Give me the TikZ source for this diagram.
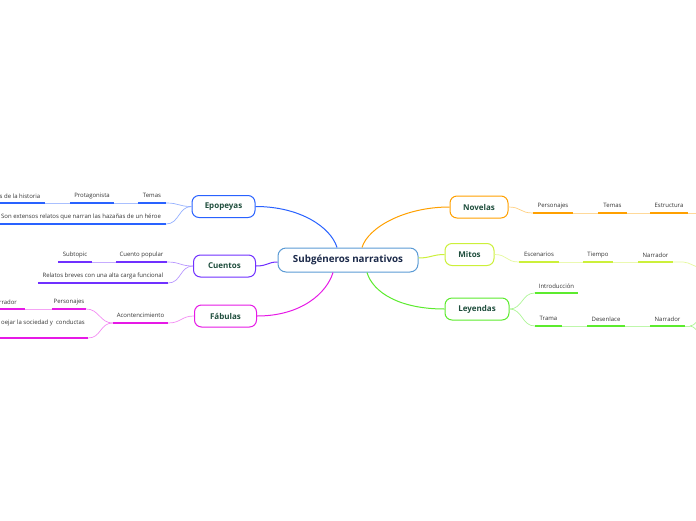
\documentclass[tikz,border=0pt]{standalone}
\usepackage{fontspec}
\setmainfont{Open Sans}
\usetikzlibrary{calc}
\definecolor{cCen}{HTML}{5B9BD5}
\definecolor{cCenT}{HTML}{1C2A4A}
\definecolor{cTxt}{HTML}{1F4E3D}
\definecolor{cGray}{HTML}{333333}
\definecolor{cEp}{HTML}{2962FF}
\definecolor{cCu}{HTML}{7030FF}
\definecolor{cFa}{HTML}{E619E6}
\definecolor{cNo}{HTML}{FFA000}
\definecolor{cMi}{HTML}{CCF03A}
\definecolor{cLe}{HTML}{5CEB2E}
\begin{document}
\begin{tikzpicture}[x=1pt,y=-1pt,
  topic/.style={draw, line width=1pt, rounded corners=7pt, fill=white, text=cTxt,
    font=\fontsize{8}{10}\selectfont\bfseries, minimum height=22pt, inner sep=0pt},
  sub/.style={inner sep=0pt, minimum height=14pt, anchor=south, text=cGray,
    font=\fontsize{6}{7}\selectfont},
  ul/.style={line width=1.7pt},
  thinl/.style={line width=0.7pt},
  main/.style={line width=1pt}]
\useasboundingbox (0,0) rectangle (696,520);
\clip (0,0) rectangle (696,520);

% central node
\node[draw=cCen, line width=1pt, rounded corners=8pt, fill=white, text=cCenT,
  font=\fontsize{9.8}{12}\selectfont\bfseries, minimum width=140pt, minimum height=24pt, inner sep=0pt]
  (c) at (348,260) {Subgéneros narrativos};

% main topics
\node[topic, draw=cEp, minimum width=63pt] (ep) at (223.5,206.5) {Epopeyas};
\node[topic, draw=cCu, minimum width=62pt] (cu) at (224.5,266) {Cuentos};
\node[topic, draw=cFa, minimum width=62pt] (fa) at (225.5,316) {Fábulas};
\node[topic, draw=cNo, minimum width=58pt] (no) at (479,207) {Novelas};
\node[topic, draw=cMi, minimum width=49pt] (mi) at (469.5,254.5) {Mitos};
\node[topic, draw=cLe, minimum width=64pt] (le) at (477,309) {Leyendas};

% connectors center -> topics
\draw[main, cEp] (ep.east) .. controls +(45,0) and +(-6,-20) .. ($(c.north)+(-11,0)$);
\draw[main, cCu] (cu.east) .. controls +(12,0) and +(-10,0) .. ($(c.west)+(0,2)$);
\draw[main, cFa] (fa.east) .. controls +(45,0) and +(-6,20) .. ($(c.south)+(-15,0)$);
\draw[main, cNo] (no.west) .. controls +(-45,0) and +(6,-20) .. ($(c.north)+(14,0)$);
\draw[main, cMi] (mi.west) .. controls +(-12,0) and +(12,0) .. ($(c.east)+(0,-2)$);
\draw[main, cLe] (le.west) .. controls +(-45,0) and +(6,20) .. ($(c.south)+(19,0)$);

% ---------- Epopeyas ----------
\node[sub, minimum width=28pt] (epT) at (152,203) {Temas};
\node[sub, minimum width=44pt] (epP) at (92,203) {Protagonista};
\node[sub, minimum width=50pt] (epH) at (20,203) {s de la historia};
\node[sub, minimum width=170pt] (epS) at (81,224) {Son extensos relatos que narran las hazañas de un héroe};
\draw[ul, cEp] (epT.south west) -- (epT.south east);
\draw[ul, cEp] (epP.south west) -- (epP.south east);
\draw[ul, cEp] (epH.south west) -- (epH.south east);
\draw[ul, cEp] (epS.south west) -- (epS.south east);
\draw[thinl, cEp!40] (epT.south west) -- (epP.south east);
\draw[thinl, cEp!40] (epP.south west) -- (epH.south east);
\draw[thinl, cEp!50] (ep.west) .. controls +(-13,0) and +(13,0) .. (epT.south east);
\draw[thinl, cEp!50] (ep.west) .. controls +(-13,0) and +(13,0) .. (epS.south east);

% ---------- Cuentos ----------
\node[sub, minimum width=51pt] (cuC) at (141.5,262) {Cuento popular};
\node[sub, minimum width=34pt] (cuS) at (75,262) {Subtopic};
\node[sub, minimum width=130pt] (cuR) at (103,283) {Relatos breves con una alta carga funcional};
\draw[ul, cCu] (cuC.south west) -- (cuC.south east);
\draw[ul, cCu] (cuS.south west) -- (cuS.south east);
\draw[ul, cCu] (cuR.south west) -- (cuR.south east);
\draw[thinl, cCu!40] (cuC.south west) -- (cuS.south east);
\draw[thinl, cCu!50] (cu.west) .. controls +(-13,0) and +(13,0) .. (cuC.south east);
\draw[thinl, cCu!50] (cu.west) .. controls +(-13,0) and +(13,0) .. (cuR.south east);

% ---------- Fábulas ----------
\node[sub, minimum width=55pt] (faA) at (140.5,323) {Acontencimiento};
\node[sub, minimum width=34pt] (faP) at (69,309) {Personajes};
\node[sub, minimum width=34pt] (faN) at (8,309) {rrador};
\node[sub, minimum width=90pt, minimum height=30pt] (faR) at (43,338) {oejar la sociedad y\ \ conductas};
\draw[ul, cFa] (faA.south west) -- (faA.south east);
\draw[ul, cFa] (faP.south west) -- (faP.south east);
\draw[ul, cFa] (faN.south west) -- (faN.south east);
\draw[ul, cFa] (0,338) -- (faR.south east);
\draw[thinl, cFa!40] (faP.south west) -- (faN.south east);
\draw[thinl, cFa!50] (fa.west) .. controls +(-13,0) and +(13,0) .. (faA.south east);
\draw[thinl, cFa!50] (faA.south west) .. controls +(-13,0) and +(13,0) .. (faP.south east);
\draw[thinl, cFa!50] (faA.south west) .. controls +(-13,0) and +(13,0) .. (faR.south east);

% ---------- Novelas ----------
\node[sub, minimum width=40pt] (noP) at (553,213) {Personajes};
\node[sub, minimum width=29pt] (noT) at (612.5,213) {Temas};
\node[sub, minimum width=38pt] (noE) at (669,213) {Estructura};
\coordinate (noEnd) at (700,213);
\draw[ul, cNo] (noP.south west) -- (noP.south east);
\draw[ul, cNo] (noT.south west) -- (noT.south east);
\draw[ul, cNo] (noE.south west) -- (noE.south east);
\draw[thinl, cNo!40] (noP.south east) -- (noT.south west);
\draw[thinl, cNo!40] (noT.south east) -- (noE.south west);
\draw[thinl, cNo!40] (noE.south east) -- (noEnd);
\draw[thinl, cNo!50] (no.east) .. controls +(13,0) and +(-13,0) .. (noP.south west);

% ---------- Mitos ----------
\node[sub, minimum width=40pt] (miE) at (539,262) {Escenarios};
\node[sub, minimum width=30pt] (miT) at (598,262) {Tiempo};
\node[sub, minimum width=35pt] (miN) at (655.5,262) {Narrador};
\coordinate (miEnd) at (702,268);
\draw[ul, cMi] (miE.south west) -- (miE.south east);
\draw[ul, cMi] (miT.south west) -- (miT.south east);
\draw[ul, cMi] (miN.south west) -- (miN.south east);
\draw[thinl, cMi!40] (miE.south east) -- (miT.south west);
\draw[thinl, cMi!40] (miT.south east) -- (miN.south west);
\draw[thinl, cMi!50] (miN.south east) -- ++(10,0) .. controls +(6,0) and +(-6,0) .. (miEnd);
\draw[thinl, cMi!50] (mi.east) .. controls +(13,0) and +(-13,0) .. (miE.south west);

% ---------- Leyendas ----------
\node[sub, minimum width=43pt] (leI) at (556.5,293) {Introducción};
\node[sub, minimum width=27pt] (leT) at (548.5,326) {Trama};
\node[sub, minimum width=38pt] (leD) at (606,326) {Desenlace};
\node[sub, minimum width=35pt] (leN) at (667.5,326) {Narrador};
\coordinate (leF) at (690,326);
\coordinate (leUp) at (702,319);
\coordinate (leDn) at (702,333);
\draw[ul, cLe] (leI.south west) -- (leI.south east);
\draw[ul, cLe] (leT.south west) -- (leT.south east);
\draw[ul, cLe] (leD.south west) -- (leD.south east);
\draw[ul, cLe] (leN.south west) -- (leN.south east);
\draw[thinl, cLe!40] (leT.south east) -- (leD.south west);
\draw[thinl, cLe!40] (leD.south east) -- (leN.south west);
\draw[thinl, cLe!40] (leN.south east) -- (leF);
\draw[thinl, cLe!50] (leF) .. controls +(5,0) and +(-5,0) .. (leUp);
\draw[thinl, cLe!50] (leF) .. controls +(5,0) and +(-5,0) .. (leDn);
\draw[thinl, cLe!50] (le.east) .. controls +(13,0) and +(-13,0) .. (leI.south west);
\draw[thinl, cLe!50] (le.east) .. controls +(13,0) and +(-13,0) .. (leT.south west);
\end{tikzpicture}
\end{document}
